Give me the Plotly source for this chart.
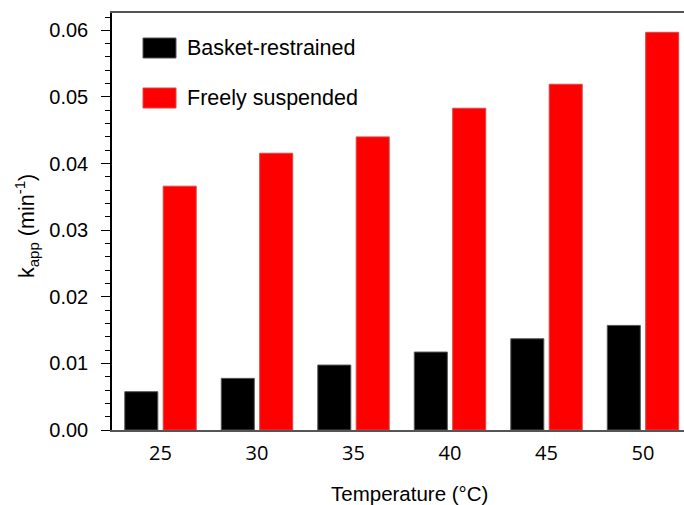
import plotly.graph_objects as go

# Apparent rate constant vs. temperature for two sample mountings
temperatures = [25, 30, 35, 40, 45, 50]
basket_restrained = [0.00575, 0.00775, 0.00975, 0.0117, 0.0137, 0.0157]
freely_suspended = [0.0366, 0.04155, 0.0440, 0.0483, 0.0519, 0.0597]
series_names = ["Basket-restrained", "Freely suspended"]
y_ticks = [0.00, 0.01, 0.02, 0.03, 0.04, 0.05, 0.06]
y_tick_text = ["0.00", "0.01", "0.02", "0.03", "0.04", "0.05", "0.06"]

W, H = 684, 505
L, T, R, B = 112, 13, 0, 75
plot_w = W - L - R
plot_h = H - T - B

fig = go.Figure()
fig.add_trace(go.Bar(x=temperatures, y=basket_restrained, name=series_names[0],
                     marker=dict(color="#000000", line=dict(color="#555555", width=1)),
                     showlegend=False))
fig.add_trace(go.Bar(x=temperatures, y=freely_suspended, name=series_names[1],
                     marker=dict(color="#ff0000", line=dict(color="#d84848", width=1)),
                     showlegend=False))

# Legend keys drawn as boxes with labels
def px_x(x):
    return (x - L) / plot_w

def px_y(y):
    return (H - B - y) / plot_h

legend_rows = [(series_names[0], "#000000", "#555555", 48),
               (series_names[1], "#ff0000", "#d84848", 98)]
for label, fill, edge, cy in legend_rows:
    fig.add_shape(type="rect", xref="paper", yref="paper",
                  x0=px_x(143), x1=px_x(176), y0=px_y(cy + 10), y1=px_y(cy - 10),
                  fillcolor=fill, line=dict(color=edge, width=1))
    fig.add_annotation(xref="paper", yref="paper", x=px_x(185), y=px_y(cy),
                       text=label, showarrow=False, xanchor="left", yanchor="middle",
                       font=dict(family="Liberation Sans, Arial", size=21.5, color="#000"))

# Axis titles
fig.add_annotation(xref="paper", yref="paper", x=px_x(409), y=px_y(493),
                   text="Temperature (°C)", showarrow=False,
                   xanchor="center", yanchor="middle",
                   font=dict(family="Liberation Sans, Arial", size=20.5, color="#000"))
fig.add_annotation(xref="paper", yref="paper", x=px_x(27), y=px_y(226),
                   text="k<sub>app</sub> (min<sup>-1</sup>)", showarrow=False,
                   textangle=-90, xanchor="center", yanchor="middle",
                   font=dict(family="Liberation Sans, Arial", size=21.5, color="#000"))

fig.update_layout(
    width=W, height=H,
    margin=dict(l=L, r=R, t=T, b=B, pad=0),
    plot_bgcolor="white", paper_bgcolor="white",
    barmode="group", bargap=0.204, bargroupgap=0.14,
    showlegend=False,
)
fig.update_xaxes(
    range=[22.487, 52.124],
    tickvals=temperatures, ticktext=[str(t) for t in temperatures],
    ticks="", showgrid=False, zeroline=False,
    showline=True, linecolor="#555555", linewidth=2, mirror=True,
    ticklabelstandoff=4,
    tickfont=dict(family="Open Sans", size=20, color="#000"),
)
fig.update_yaxes(
    range=[0, 0.0626],
    tickmode="array", tickvals=y_ticks, ticktext=y_tick_text,
    ticks="outside", ticklen=9, tickwidth=1, tickcolor="#000",
    minor=dict(tick0=0, dtick=0.002, ticks="outside", ticklen=5, tickwidth=1,
               tickcolor="#000", showgrid=False),
    showgrid=False, zeroline=False,
    showline=True, linecolor="#000", linewidth=1.5,
    ticklabelstandoff=9,
    tickfont=dict(family="Liberation Sans", size=20, color="#000"),
)

fig.write_html("out.html")
